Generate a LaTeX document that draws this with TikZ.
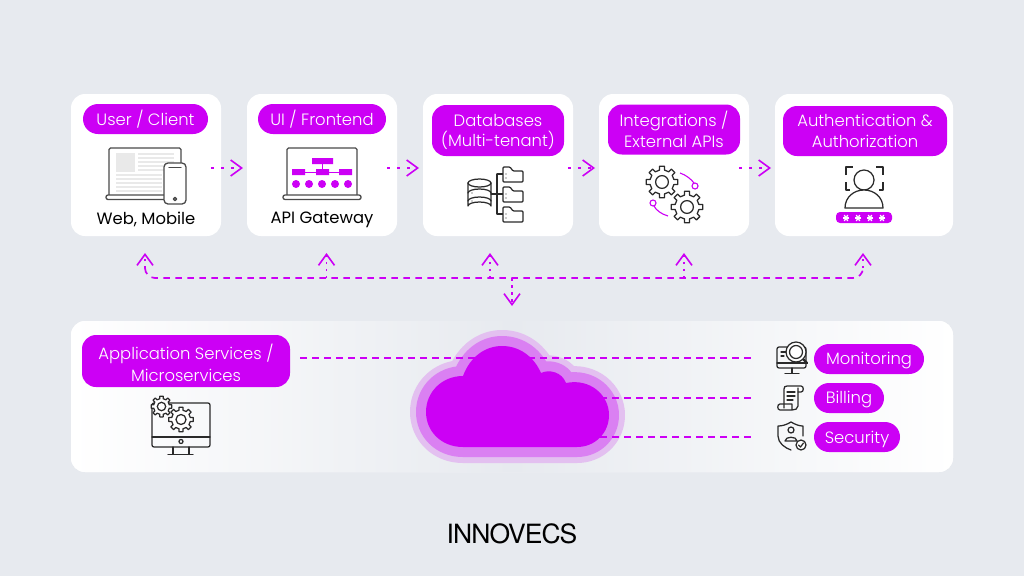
\documentclass[tikz,border=0pt]{standalone}
\usepackage{fontspec}
\usetikzlibrary{arrows.meta}
\setmainfont{Poppins Light}
\newfontfamily\capfont{Poppins}
\newfontfamily\logofont[LetterSpace=-3.5]{TeX Gyre Heros}
\definecolor{bgc}{HTML}{E7EAEF}
\definecolor{mag}{HTML}{CC00F5}
\definecolor{halo}{HTML}{E3C0F0}
\definecolor{halomid}{HTML}{DA80F2}
\definecolor{ink}{HTML}{2A2A2A}
\definecolor{soft}{HTML}{E9E9E9}
\newcommand{\dn}[2][3.5pt]{\raisebox{0pt}[\dimexpr\height+#1\relax][\depth]{#2}}
\tikzset{
  card/.style={fill=white,rounded corners=14pt,inner sep=0pt,outer sep=0pt},
  pill/.style={fill=mag,text=white,align=center,inner sep=0pt,outer sep=0pt,rounded corners=15pt,font=\fontsize{16.4}{20.5}\selectfont},
  blockpill/.style={pill,rounded corners=14pt},
  captext/.style={text=black,inner sep=0pt,font=\capfont\fontsize{16.4}{20}\selectfont},
  tipm/.tip={Straight Barb[length=11pt,width=16pt,line width=1.6pt]},
  flow/.style={mag,line width=1.7pt,dash pattern=on 3pt off 7pt,-tipm},
  stub/.style={mag,line width=1.7pt,dash pattern=on 2.5pt off 4.5pt,-tipm},
  busline/.style={mag,line width=1.7pt,dash pattern=on 6.5pt off 5.5pt,rounded corners=10pt},
  link/.style={mag,line width=1.7pt,dash pattern=on 6.5pt off 5.5pt},
  ic/.style={draw=ink,line width=1.25pt,line join=round,line cap=round},
  icg/.style={draw=ink!85,line width=1.3pt,line join=round,line cap=round},
  softline/.style={draw=soft,line width=1.2pt},
  cloudshape/.style={line join=round}
}
\newcommand{\gearic}[3]{%
  \begin{scope}[shift={(#1,#2)}]
    \draw[ic,fill=white] (-12:#3*0.76) \foreach \a in {0,45,...,315}{ -- (\a-12:#3*0.76) -- (\a-9:#3) -- (\a+9:#3) -- (\a+12:#3*0.76) } -- cycle;
    \draw[ic] (0,0) circle ({#3*0.4});
  \end{scope}}
\newcommand{\starry}[2]{%
  \begin{scope}[shift={(#1,#2)}]
    \foreach \a in {0,60,120}{\draw[white,line width=1.3pt] (\a:3.4) -- (\a+180:3.4);}
  \end{scope}}
\newcommand{\folderic}[2]{%
  \draw[ic,fill=white,rounded corners=1pt] (#1,#2) -- (#1,#2+15) -- (#1+20,#2+15) -- (#1+20,#2+4) -- (#1+10,#2+4) -- (#1+7,#2) -- cycle;
  \fill[ink] (#1+3,#2+7) circle (0.6) (#1+3,#2+11) circle (0.6);}
\newcommand{\cloudpath}{(463,376) .. controls (470,357) and (485,346) .. (502,346) .. controls (520,346) and (534,357) .. (541,373) .. controls (549,369) and (562,372) .. (566,383) .. controls (590,378) and (609,395) .. (609,415) .. controls (609,433) and (595,447) .. (577,447) -- (463,447) .. controls (441,447) and (426,431) .. (426,412) .. controls (426,392) and (442,376) .. (463,376) -- cycle}
\begin{document}
\begin{tikzpicture}[x=1pt,y=-1pt]
\useasboundingbox (0,0) rectangle (1024,576);
\fill[bgc] (0,0) rectangle (1024,576);

% top cards
\node[card,minimum width=150pt,minimum height=142pt] (c1) at (146,165) {};
\node[card,minimum width=150pt,minimum height=142pt] (c2) at (322,165) {};
\node[card,minimum width=150pt,minimum height=142pt] (c3) at (498,165) {};
\node[card,minimum width=150pt,minimum height=142pt] (c4) at (674,165) {};
\node[card,minimum width=178pt,minimum height=142pt] (c5) at (864,165) {};

\node[pill,minimum width=125pt,minimum height=30pt] (p1) at (145.5,119) {\dn[1pt]{User / Client}};
\node[pill,minimum width=128pt,minimum height=30pt] (p2) at (322,119) {\dn[1pt]{UI / Frontend}};
\node[blockpill,minimum width=132pt,minimum height=51pt] (p3) at (498,130.5) {\dn[2.5pt]{Databases}\\(Multi-tenant)};
\node[blockpill,minimum width=132pt,minimum height=50pt] (p4) at (674,129.5) {\dn[0pt]{Integrations /}\\External APIs};
\node[blockpill,minimum width=164pt,minimum height=50pt] (p5) at (865,131) {\dn[0pt]{Authentication \&}\\Authorization};

\node[captext] (t1) at (146,219.5) {Web, Mobile};
\node[captext] (t2) at (322,219.5) {API Gateway};

% flow arrows
\draw[flow] ([shift={(-10,3)}]c1.east) -- ([shift={(-4,3)}]c2.west);
\draw[flow] ([shift={(-10,3)}]c2.east) -- ([shift={(-4,3)}]c3.west);
\draw[flow] ([shift={(-5,3)}]c3.east) -- ([shift={(-4,3)}]c4.west);
\draw[flow] ([shift={(-10,3)}]c4.east) -- ([shift={(-4,3)}]c5.west);

% bottom panel
\node[card,left color=white,right color=white,middle color=bgc,minimum width=882pt,minimum height=151pt] (panel) at (512,396.5) {};

% bus
\coordinate (busL) at (145,268);
\coordinate (busR) at (863,268);
\coordinate (bus2) at (326.5,278);
\coordinate (bus3) at (490,278);
\coordinate (bus4) at (684,278);
\coordinate (busD) at (512,278);
\draw[busline] (busL) -- (145,278) -- (863,278) -- (busR);
\draw[stub] (busL) -- ([shift={(-1,17)}]c1.south);
\draw[stub] (bus2) -- ([shift={(4.5,17)}]c2.south);
\draw[stub] (bus3) -- ([shift={(-8,17)}]c3.south);
\draw[stub] (bus4) -- ([shift={(10,17)}]c4.south);
\draw[stub] (busR) -- ([shift={(-1,17)}]c5.south);
\draw[stub] (busD) -- ([shift={(0,-15)}]panel.north);

% left pill and service pills
\node[blockpill,minimum width=208pt,minimum height=52pt,font=\fontsize{16.4}{21.5}\selectfont] (app) at (186,361) {\dn{Application Services /}\\Microservices};
\node[pill,minimum width=110pt,minimum height=30pt] (mon) at (869,359) {\dn{Monitoring}};
\node[pill,minimum width=70pt,minimum height=30pt] (bil) at (849,398) {\dn{Billing}};
\node[pill,minimum width=86pt,minimum height=30pt] (sec) at (857,437) {\dn[5pt]{Security}};

% cloud
\draw[halo,fill=halo,line width=32pt,cloudshape] \cloudpath;
\draw[halomid,fill=halomid,line width=20pt,cloudshape] \cloudpath;
\coordinate (cloudA) at (600,398);
\coordinate (cloudB) at (600,437);
\draw[link] ([shift={(10,-3)}]app.east) -- ([shift={(-59,-1)}]mon.west);
\draw[link] (cloudA) -- ([xshift=-59pt]bil.west);
\draw[link] (cloudB) -- ([xshift=-59pt]sec.west);
\fill[mag] \cloudpath;

% laptop + phone
\draw[icg,rounded corners=1.5pt] (109,195) -- (109,148) -- (181,148) -- (181,195);
\fill[soft] (116,153) rectangle (135,172);
\foreach \y in {154,158,162,166,170}{\draw[softline] (138,\y) -- (174,\y);}
\foreach \y in {175,179,183,187,191}{\draw[softline] (116,\y) -- (162,\y);}
\draw[icg,fill=white,rounded corners=2pt] (106,195) rectangle (166,199.5);
\draw[icg,fill=white,rounded corners=4pt] (164,163) rectangle (186,204);
\draw[icg] (169,167.5) -- (181,167.5);
\draw[icg] (175,199) circle (1.6);

% laptop API
\draw[icg,rounded corners=1.5pt] (287,195) -- (287,148) -- (357,148) -- (357,195);
\draw[icg,fill=white,rounded corners=2pt] (283,195) rectangle (361,199.5);
\fill[mag] (312,158) rectangle (333,164) (292,169) rectangle (305,175) (316,169) rectangle (329,175) (339,169) rectangle (352,175);
\foreach \x in {296,309,322,335,348}{\fill[mag] (\x,184) circle (4);}
\draw[mag,line width=0.5pt] (322,164) -- (322,169) (305,172) -- (316,172) (329,172) -- (339,172);

% database
\draw[ic,fill=white] (468,183) -- (468,206) arc[start angle=180,end angle=360,x radius=11.5,y radius=4] -- (491,183);
\draw[ic,fill=white] (479.5,183) ellipse (11.5 and 4);
\draw[ic] (468,193) arc[start angle=180,end angle=360,x radius=11.5,y radius=4];
\draw[ic] (468,201) arc[start angle=180,end angle=360,x radius=11.5,y radius=4];
\fill[ink] (472,193) circle (0.7) (472,201) circle (0.7);
\draw[ic] (491,194) -- (503,194) (497,174) -- (497,214) (497,174) -- (503,174) (497,214) -- (503,214);
\folderic{503}{167}
\folderic{503}{187}
\folderic{503}{207}

% gears
\gearic{662}{182}{16}
\gearic{687}{207}{16}
\draw[mag,line width=1.1pt] (680,173) .. controls (686,175) and (691,179) .. (694,183);
\draw[mag,line width=1.1pt,fill=white] (695,186) circle (3);
\draw[mag,line width=1.1pt] (668,216) .. controls (661,214) and (656,210) .. (654,206);
\draw[mag,line width=1.1pt,fill=white] (653,203) circle (3);

% auth
\draw[ic,line cap=butt] (846,175) -- (846,167) -- (853,167) (876,167) -- (883,167) -- (883,175) (846,182) -- (846,190) -- (850,190) (879,190) -- (883,190) -- (883,182);
\draw[ic,fill=white] (864,180) circle (10);
\draw[ic,fill=white] (845,208) .. controls (845,197) and (854,190) .. (864,190) .. controls (874,190) and (883,197) .. (883,208) -- cycle;
\fill[mag,rounded corners=4pt] (836,212) rectangle (892,223);
\starry{846}{218}\starry{858}{218}\starry{870}{218}\starry{882}{218}

% monitor + gears
\draw[ic,rounded corners=2pt] (152,403) rectangle (210,447);
\draw[ic] (152,437) -- (210,437);
\draw[ic] (181,441.5) circle (2);
\draw[ic] (173,447) -- (173,454) (189,447) -- (189,454) (168,454.5) -- (193,454.5);
\gearic{161.5}{406.5}{10.5}
\gearic{181}{419.5}{12.5}

% monitoring icon
\draw[ic,rounded corners=2pt] (777,347) rectangle (806,368);
\draw[ic] (777,363) -- (806,363);
\draw[ic] (792,368) -- (792,373) (785,373.5) -- (799,373.5);
\draw[ic] (781,352) -- (786,352) (781,356) -- (784,356);
\draw[ic,fill=white] (796,352) circle (10);
\draw[ic] (796,352) circle (6.5);
\draw[ic,line width=2.2pt] (803.5,359.5) -- (807,363);

% billing icon
\draw[ic,fill=white] (784,408) -- (784,389) .. controls (784,387) and (785,386) .. (787,386) -- (801,386) .. controls (804,386) and (804,392) .. (801,392) -- (798,392);
\draw[ic] (798,388) -- (798,406) .. controls (798,409) and (795,410) .. (792,410) -- (780,410) .. controls (777,410) and (777,404) .. (780,404) -- (792,404) -- (792,409);
\draw[ic] (787,392) -- (795,392) (787,396) -- (795,396) (787,400) -- (793,400);

% security icon
\draw[ic] (791,422) .. controls (786,425) and (782,426) .. (778,426) -- (778,436) .. controls (778,443) and (785,448) .. (791,450) (791,422) .. controls (796,425) and (800,426) .. (803,426) -- (803,436);
\draw[ic] (791,430) circle (3);
\draw[ic] (785,441) .. controls (785,436) and (797,436) .. (797,441) -- cycle;
\draw[ic,fill=white] (801,445) circle (5);
\draw[ic] (798.5,445) -- (800.5,447) -- (803.5,443);

% logo
\node[inner sep=0pt,text=black,font=\logofont\fontsize{26.5}{28}\selectfont] (logo) at (512,533.5) {INNOVECS};
\end{tikzpicture}
\end{document}
